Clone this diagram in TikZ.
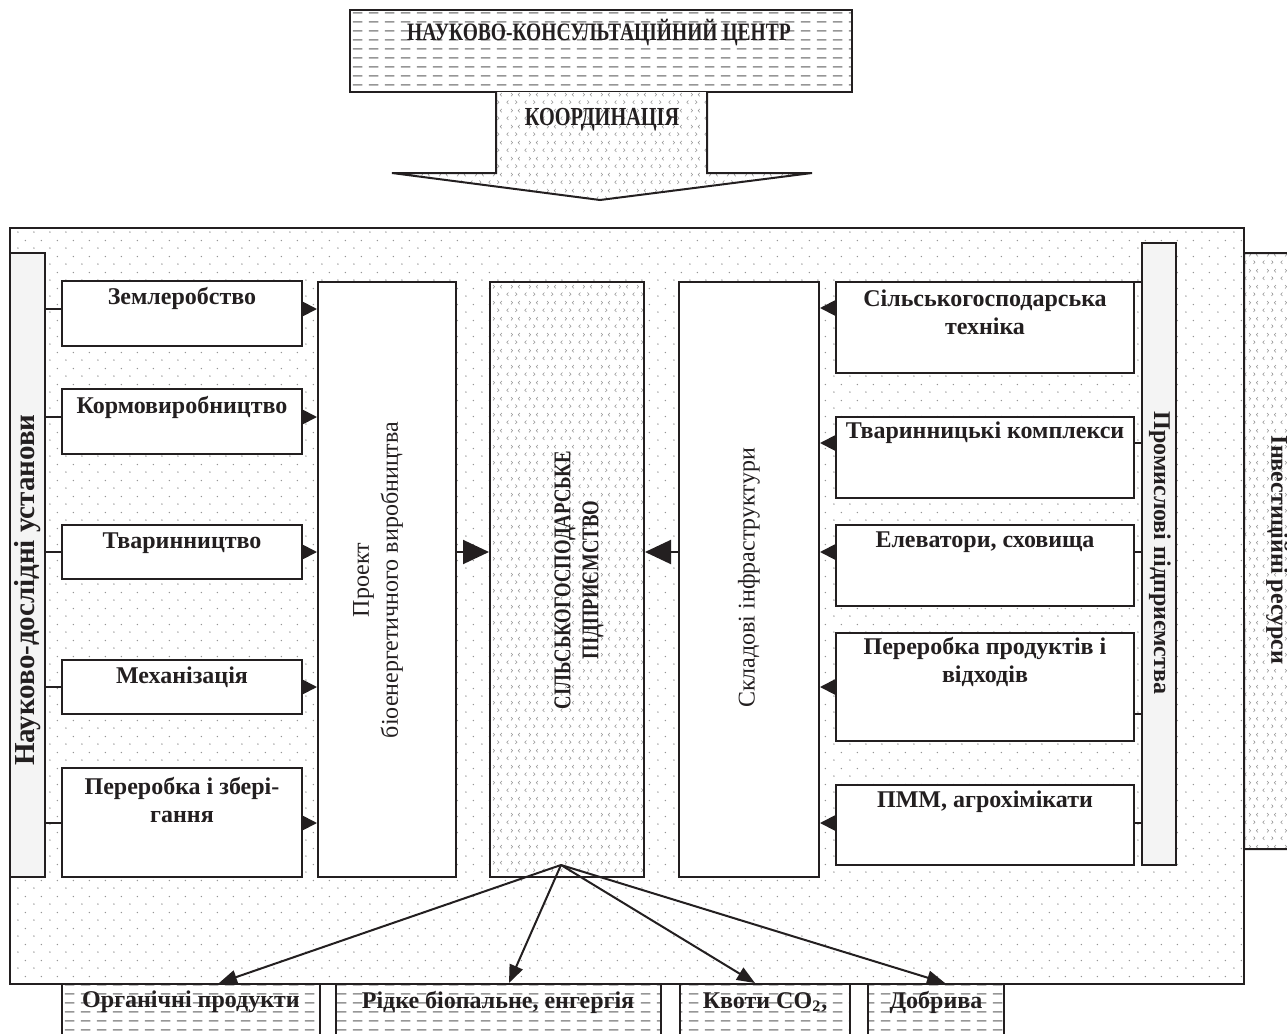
\documentclass[tikz,border=0pt]{standalone}
\usepackage{fontspec}
\setmainfont{Liberation Serif}
\newfontfamily\condfont{Liberation Serif}[FakeStretch=0.78]
\usetikzlibrary{patterns,fit,arrows.meta}

\pgfdeclarepatternformonly{bgdots}{\pgfqpoint{0pt}{0pt}}{\pgfqpoint{8pt}{8pt}}{\pgfqpoint{8pt}{8pt}}{%
  \pgfpathcircle{\pgfqpoint{1pt}{1pt}}{0.4pt}%
  \pgfpathcircle{\pgfqpoint{5pt}{5pt}}{0.4pt}%
  \pgfusepath{fill}}

\pgfdeclarepatternformonly{chev}{\pgfqpoint{0pt}{0pt}}{\pgfqpoint{9pt}{8pt}}{\pgfqpoint{9pt}{8pt}}{%
  \pgfsetlinewidth{0.3pt}%
  \pgfpathmoveto{\pgfqpoint{2.3pt}{2.9pt}}\pgfpathlineto{\pgfqpoint{1.5pt}{2pt}}\pgfpathlineto{\pgfqpoint{2.3pt}{1.1pt}}%
  \pgfpathmoveto{\pgfqpoint{6pt}{2.9pt}}\pgfpathlineto{\pgfqpoint{6.8pt}{2pt}}\pgfpathlineto{\pgfqpoint{6pt}{1.1pt}}%
  \pgfpathmoveto{\pgfqpoint{3.7pt}{6.9pt}}\pgfpathlineto{\pgfqpoint{4.5pt}{6pt}}\pgfpathlineto{\pgfqpoint{3.7pt}{5.1pt}}%
  \pgfpathmoveto{\pgfqpoint{8.3pt}{6.9pt}}\pgfpathlineto{\pgfqpoint{7.5pt}{6pt}}\pgfpathlineto{\pgfqpoint{8.3pt}{5.1pt}}%
  \pgfusepath{stroke}}

\pgfdeclarepatternformonly{hdash}{\pgfqpoint{0pt}{0pt}}{\pgfqpoint{8pt}{4.5pt}}{\pgfqpoint{8pt}{4.5pt}}{%
  \pgfsetlinewidth{0.8pt}%
  \pgfpathmoveto{\pgfqpoint{0.5pt}{2.25pt}}\pgfpathlineto{\pgfqpoint{5.5pt}{2.25pt}}%
  \pgfusepath{stroke}}

\definecolor{ink}{RGB}{35,31,32}
\definecolor{patgray}{RGB}{150,150,150}
\definecolor{barfill}{RGB}{244,244,244}

\tikzset{
  ln/.style={draw=ink, line width=1pt},
  wbox/.style={draw=ink, line width=1pt, fill=white, inner sep=0pt},
  barbox/.style={draw=ink, line width=1pt, fill=barfill, inner sep=0pt},
  dotbox/.style={draw=ink, line width=1pt, inner sep=0pt, preaction={fill=white}, pattern=bgdots, pattern color=patgray},
  chevbox/.style={draw=ink, line width=1pt, inner sep=0pt, preaction={fill=white}, pattern=chev, pattern color=patgray},
  dashbox/.style={draw=ink, line width=1pt, inner sep=0pt, preaction={fill=white}, pattern=hdash, pattern color=patgray},
  lbl/.style={text=ink, font=\fontsize{12}{14}\selectfont\bfseries, align=center, inner sep=0pt},
  rlbl/.style={text=ink, font=\fontsize{12}{14.5}\selectfont, align=center, inner sep=0pt},
  caplbl/.style={text=ink, font=\fontsize{12.5}{14}\selectfont\condfont\bfseries, align=center, inner sep=0pt},
  tri/.style={ln, -{Triangle[length=8pt,width=8pt]}},
  bigtri/.style={ln, -{Triangle[length=13pt,width=12pt]}},
  outtri/.style={ln, -{Triangle[length=9pt,width=7pt]}},
}

\begin{document}
\begin{tikzpicture}[x=0.5pt,y=-0.5pt]
\useasboundingbox (0,0) rectangle (1287,1034);

% ---------- top: centre and coordination arrow
\node[dashbox, fit={(350,10)(852,92)}] (nkc) {};
\node[caplbl] (nkct) at (599,33) {НАУКОВО-КОНСУЛЬТАЦІЙНИЙ ЦЕНТР};
\draw[ln, preaction={fill=white}, pattern=chev, pattern color=patgray]
  (496,92) -- (496,173) -- (392,173) -- (600,200) -- (812,173) -- (707,173) -- (707,92);
\node[caplbl, font=\fontsize{13}{14}\selectfont\condfont\bfseries] (koord) at (602,120) {КООРДИНАЦІЯ};

% ---------- investment resources (behind main box)
\draw[ln, preaction={fill=white}, pattern=chev, pattern color=patgray]
  (1300,253) -- (1244,253) -- (1244,538) -- (1219,538) -- (1219,497) -- (1209,578)
  -- (1219,660) -- (1219,619) -- (1244,619) -- (1244,849) -- (1300,849);
\node[lbl, rotate=-90] (invt) at (1277,550) {Інвестиційні ресурси};

% ---------- main box
\node[dotbox, fit={(10,228)(1244,984)}] (main) {};

% ---------- bottom outputs
\node[dashbox, fit={(62,984)(320,1045)}] (org) {};
\node[dashbox, fit={(336,984)(661,1045)}] (fuel) {};
\node[dashbox, fit={(680,984)(850,1045)}] (co2) {};
\node[dashbox, fit={(868,984)(1004,1045)}] (fert) {};
\node[lbl] (orgt) at (191,1002) {Органічні продукти};
\node[lbl] (fuelt) at (498,1002) {Рідке біопальне, енгергія};
\node[lbl] (co2t) at (765,1002) {Квоти CO\textsubscript{2},};
\node[lbl] (fertt) at (936,1002) {Добрива};

% ---------- left bar and boxes
\node[barbox, fit={(10,253)(45,877)}] (nd) {};
\node[lbl, font=\fontsize{14.5}{15}\selectfont\bfseries, rotate=90] (ndt) at (28,590) {Науково-дослідні установи};

\node[wbox, fit={(62,281)(302,346)}] (zem) {};
\node[wbox, fit={(62,389)(302,454)}] (korm) {};
\node[wbox, fit={(62,525)(302,579)}] (tvar) {};
\node[wbox, fit={(62,660)(302,714)}] (mech) {};
\node[wbox, fit={(62,768)(302,877)}] (pere) {};
\node[lbl] (zemt) at (182,298) {Землеробство};
\node[lbl] (kormt) at (182,407) {Кормовиробництво};
\node[lbl] (tvart) at (182,543) {Тваринництво};
\node[lbl] (mecht) at (182,677) {Механізація};
\node[lbl] (peret) at (182,800) {Переробка і збері-\\гання};

% ---------- central columns
\node[wbox, fit={(318,282)(456,877)}] (proj) {};
\node[rlbl, rotate=90] (projt) at (378,580) {Проект\\біоенергетичного виробництва};
\node[chevbox, fit={(490,282)(644,877)}] (farm) {};
\node[caplbl, font=\fontsize{12}{14}\selectfont\condfont\bfseries, rotate=90] (farmt) at (579,580) {СІЛЬСЬКОГОСПОДАРСЬКЕ\\ПІДПРИЄМСТВО};
\node[wbox, fit={(679,282)(819,877)}] (infra) {};
\node[rlbl, rotate=90] (infrat) at (749,578) {Складові інфраструктури};

% ---------- right bar and boxes
\node[barbox, fit={(1142,243)(1176,865)}] (prom) {};
\node[lbl, rotate=-90] (promt) at (1160,553) {Промислові підприємства};

\node[wbox, fit={(836,282)(1134,373)}] (tech) {};
\node[wbox, fit={(836,417)(1134,498)}] (tk) {};
\node[wbox, fit={(836,525)(1134,606)}] (elev) {};
\node[wbox, fit={(836,633)(1134,741)}] (pp) {};
\node[wbox, fit={(836,785)(1134,865)}] (pmm) {};
\node[lbl] (techt) at (985,312) {Сільськогосподарська\\техніка};
\node[lbl] (tkt) at (985,433) {Тваринницькі комплекси};
\node[lbl] (elevt) at (985,542) {Елеватори, сховища};
\node[lbl] (ppt) at (985,662) {Переробка продуктів і\\відходів};
\node[lbl] (pmmt) at (985,802) {ПММ, агрохімікати};

% ---------- row coordinates
\coordinate (yl1) at (0,309);
\coordinate (yl2) at (0,417);
\coordinate (yl3) at (0,552);
\coordinate (yl4) at (0,687);
\coordinate (yl5) at (0,823);
\coordinate (yr1) at (0,308);
\coordinate (yr2) at (0,443);
\coordinate (yr3) at (0,552);
\coordinate (yr4) at (0,687);
\coordinate (yr5) at (0,823);
\coordinate (yc1) at (0,282);
\coordinate (yc2) at (0,443);
\coordinate (yc3) at (0,552);
\coordinate (yc4) at (0,714);
\coordinate (yc5) at (0,823);

% left connectors
\foreach \b/\y in {zem/yl1, korm/yl2, tvar/yl3, mech/yl4, pere/yl5}{
  \draw[ln] (nd.east |- \y) -- (\b.west |- \y);
  \draw[tri] (\b.east |- \y) -- (proj.west |- \y);
}
% right connectors
\foreach \b/\y/\c in {tech/yr1/yc1, tk/yr2/yc2, elev/yr3/yc3, pp/yr4/yc4, pmm/yr5/yc5}{
  \draw[ln] (prom.west |- \c) -- (\b.east |- \c);
  \draw[tri] (\b.west |- \y) -- (infra.east |- \y);
}

% into the enterprise
\draw[bigtri] (proj.east |- yc3) -- (farm.west |- yc3);
\draw[bigtri] (infra.west |- yc3) -- (farm.east |- yc3);

% outputs
\coordinate (src) at (561,865);
\coordinate (t1) at (219,0);
\coordinate (t2) at (509,0);
\coordinate (t3) at (755,0);
\coordinate (t4) at (945,0);
\draw[outtri] (src) -- (org.north -| t1);
\draw[outtri] (src) -- (fuel.north -| t2);
\draw[outtri] (src) -- (co2.north -| t3);
\draw[outtri] (src) -- (fert.north -| t4);
\end{tikzpicture}
\end{document}
